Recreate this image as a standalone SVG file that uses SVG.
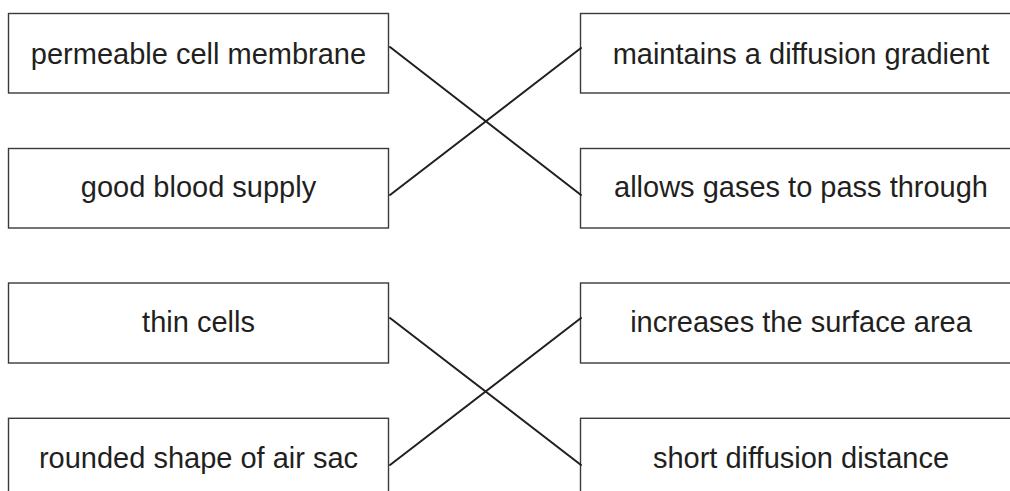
<svg xmlns="http://www.w3.org/2000/svg" width="1010" height="491" viewBox="0 0 1010 491">
<style>
rect{fill:#fff;stroke:#3a3a3a;stroke-width:1.4}
text{font-family:"Liberation Sans",Arial,sans-serif;font-size:29px;fill:#231f20;text-anchor:middle}
.c line{stroke:#231f20;stroke-width:2;stroke-linecap:round}
</style>
<rect x="0" y="0" width="1010" height="491" style="stroke:none;fill:#fff"/>
<g id="n1"><rect x="8.5" y="13.5" width="380" height="79.5"/><text x="198.5" y="63.5">permeable cell membrane</text></g>
<g id="n2"><rect x="8.5" y="148.5" width="380" height="79.5"/><text x="198.5" y="197">good blood supply</text></g>
<g id="n3"><rect x="8.5" y="283" width="380" height="80"/><text x="198.5" y="332">thin cells</text></g>
<g id="n4"><rect x="8.5" y="418.3" width="380" height="100"/><text x="198.5" y="468">rounded shape of air sac</text></g>
<g id="n5"><rect x="580.5" y="13.5" width="450" height="79.5"/><text x="801" y="63.5">maintains a diffusion gradient</text></g>
<g id="n6"><rect x="580.5" y="148.5" width="450" height="79.5"/><text x="801" y="197">allows gases to pass through</text></g>
<g id="n7"><rect x="580.5" y="283" width="450" height="80"/><text x="801" y="332">increases the surface area</text></g>
<g id="n8"><rect x="580.5" y="418.3" width="450" height="100"/><text x="801" y="468">short diffusion distance</text></g>
<g class="c" id="connectors">
<line x1="390" y1="47" x2="581" y2="195"/>
<line x1="390" y1="195" x2="581" y2="48"/>
<line x1="390" y1="318" x2="581" y2="465"/>
<line x1="390" y1="465" x2="581" y2="318"/>
</g>
</svg>
